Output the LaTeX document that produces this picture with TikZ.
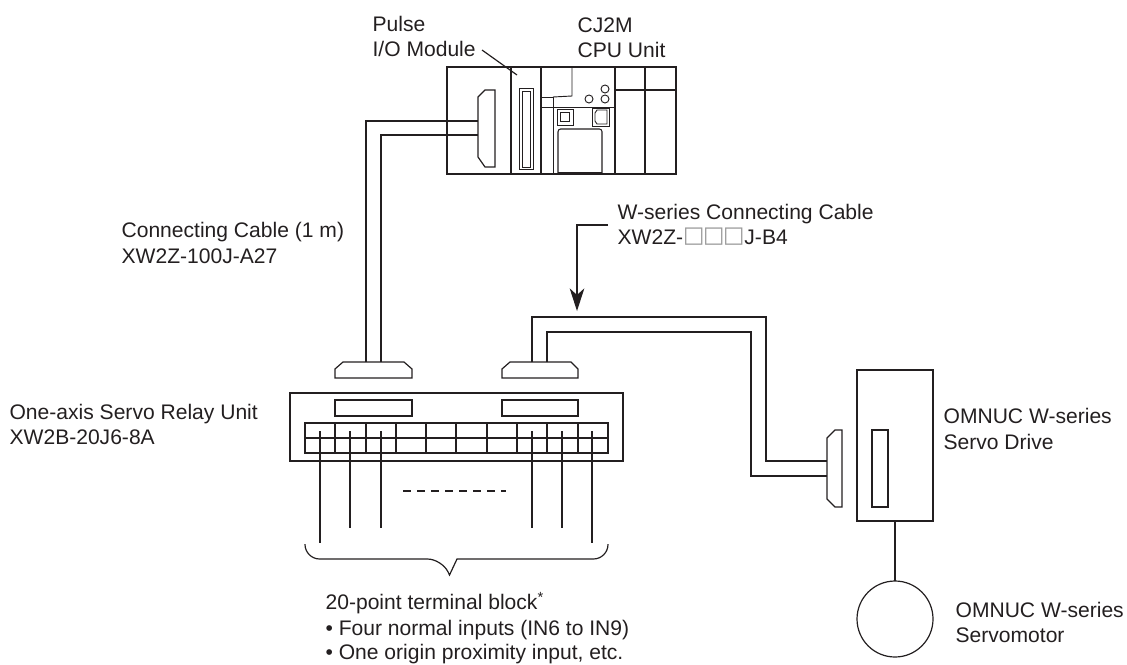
\documentclass[tikz,border=0pt]{standalone}
\usepackage{fontspec}
\setmainfont{Liberation Sans}
\newfontfamily\symfont{DejaVu Sans}
\usetikzlibrary{arrows.meta}
\definecolor{ink}{HTML}{231F20}
\tikzset{
  box/.style={draw=ink, inner sep=0pt, outer sep=0pt},
  thinbox/.style={box, line width=0.7pt},
  lbl/.style={anchor=base west, inner sep=0pt, text=ink, font=\fontsize{15.8pt}{19pt}\selectfont},
}
\newcommand{\blank}{\raisebox{1.5pt}{\symfont\fontsize{17pt}{17pt}\selectfont\textcolor{black!40}{□}}}
\begin{document}
\begin{tikzpicture}[x=0.75pt, y=-0.75pt, line width=0.9pt]
        \useasboundingbox (0,0) rectangle (1127,664);

        % Top: PLC rack
        \node[box, minimum width=171.75pt, minimum height=80.25pt] (rack) at (561.5,120.5) {};
        \node[box, minimum width=22.5pt, minimum height=80.25pt] (module) at (526,120.5) {};
        \node[box, minimum width=22.5pt, minimum height=80.25pt] (slotA) at (630,120.5) {};
        \node[box, minimum width=23.25pt, minimum height=80.25pt] (slotB) at (660.5,120.5) {};
        \draw[ink] (615,90) -- (676,90);

        % Pulse module socket
        \node[thinbox, minimum width=10.5pt, minimum height=60.75pt] (sockOut) at (526,128.5) {};
        \node[thinbox, minimum width=6pt, minimum height=57pt] (sockIn) at (526,129) {};

        % CPU front
        \draw[ink, line width=0.7pt] (572,67) -- (572,96) -- (553,97);
        \draw[ink, line width=0.7pt] (541,107) -- (615,107);
        \draw[ink, line width=0.7pt] (553,97) -- (553,174);
        \draw[ink, line width=0.7pt] (541,97) -- (553,97);
        \node[thinbox, minimum width=12pt, minimum height=12pt] (keyOut) at (565,117) {};
        \node[thinbox, minimum width=6.75pt, minimum height=6.75pt] (keyIn) at (564.5,116.5) {};
        \node[thinbox, minimum width=12.75pt, minimum height=13.5pt] (portOut) at (600.5,117) {};
        \draw[ink, line width=0.7pt] (597,110) -- (607,110) -- (607,124) -- (597,124) -- (595,121) -- (595,113) -- cycle;
        \node[thinbox, circle, minimum size=6pt] (ledA) at (589,99) {};
        \node[thinbox, circle, minimum size=6pt] (ledB) at (605,89) {};
        \node[thinbox, circle, minimum size=6pt] (ledC) at (605,99) {};
        \draw[ink, line width=0.8pt, rounded corners=2pt] (558,173) -- (558,129) -- (602,129) -- (602,173);
        \draw[ink] (558,173) -- (602,173);

        % Relay unit
        \node[box, minimum width=249.75pt, minimum height=51pt] (relay) at (456.5,427) {};
        \node[box, minimum width=57.75pt, minimum height=12pt] (headA) at (373.5,408) {};
        \node[box, minimum width=57pt, minimum height=12pt] (headB) at (540,408) {};
        \node[box, minimum width=227.25pt, minimum height=22.5pt] (block) at (456.5,438) {};
        \draw[ink] (block.west) -- (block.east);
        \draw[ink] (335,423) -- (335,453);
        \draw[ink] (366,423) -- (366,453);
        \draw[ink] (396,423) -- (396,453);
        \draw[ink] (426,423) -- (426,453);
        \draw[ink] (456,423) -- (456,453);
        \draw[ink] (487,423) -- (487,453);
        \draw[ink] (517,423) -- (517,453);
        \draw[ink] (547,423) -- (547,453);
        \draw[ink] (578,423) -- (578,453);

        % Wires
        \draw[ink] (320,431) -- (320,543);
        \draw[ink] (350,431) -- (350,528);
        \draw[ink] (381,431) -- (381,528);
        \draw[ink] (532,431) -- (532,528);
        \draw[ink] (562,431) -- (562,528);
        \draw[ink] (592,431) -- (592,543);
        \draw[ink, dash pattern=on 6pt off 4.5pt] (403,491) -- (506,491);
        \draw[ink, rounded corners=11pt] (305,544) -- (305,559) -- (442,559) [sharp corners] -- (449.5,575) -- (457,559) [rounded corners=11pt] -- (608,559) -- (608,544);

        % Plugs
        \draw[ink] (335,378) -- (335,369) -- (343,362) -- (404,362) -- (412,369) -- (412,378) -- cycle;
        \draw[ink] (502,378) -- (502,369) -- (510,362) -- (571,362) -- (578,369) -- (578,378) -- cycle;
        \draw[ink] (842,430) -- (835,430) -- (827,438) -- (827,499) -- (835,507) -- (842,507) -- cycle;
        \draw[ink] (495,90) -- (485,90) -- (478,97) -- (478,157) -- (485,167) -- (495,167) -- cycle;

        % Cables
        \coordinate (ca1) at (366,362);
        \coordinate (ca2) at (381,362);
        \coordinate (ca3) at (478,121);
        \coordinate (ca4) at (478,135);
        \draw[ink] (ca1) |- (ca3);
        \draw[ink] (ca2) |- (ca4);
        \coordinate (cb1) at (532,362);
        \coordinate (cb2) at (547,362);
        \coordinate (cb3) at (827,461);
        \coordinate (cb4) at (827,476);
        \draw[ink] (cb1) -- (532,317) -- (766,317) -- (766,461) -- (cb3);
        \draw[ink] (cb2) -- (547,332) -- (751,332) -- (751,476) -- (cb4);

        % Right: drive and motor
        \node[box, minimum width=57pt, minimum height=113.25pt] (drive) at (895,445.5) {};
        \node[box, minimum width=12pt, minimum height=57.75pt] (driveSlot) at (880,468.5) {};
        \node[box, circle, minimum size=57pt] (motor) at (895,619) {};
        \draw[ink] (drive) -- (motor);

        % Labels
        \coordinate (tagStart) at (482,50);
        \coordinate (tagEnd) at (517,75);
        \draw[ink] (tagStart) -- (tagEnd);
        \coordinate (arrowStart) at (608,225);
        \coordinate (arrowEnd) at (577,311);
        \draw[ink, -{Stealth[length=17pt, width=11pt, inset=5pt]}] (arrowStart) -| (arrowEnd);

        \node[lbl] (tPulseA) at (372,31) {Pulse};
        \node[lbl] (tPulseB) at (372,56) {I/O Module};
        \node[lbl] (tCpuA) at (577,32) {CJ2M};
        \node[lbl] (tCpuB) at (577,57) {CPU Unit};
        \node[lbl] (tCableA) at (121,237) {Connecting Cable (1 m)};
        \node[lbl] (tCableB) at (121,263) {XW2Z-100J-A27};
        \node[lbl] (tWsA) at (617,219) {W-series Connecting Cable};
        \node[lbl] (tWsB) at (617,244) {XW2Z-\blank\kern-1.1pt\blank\kern-1.1pt\blank J-B4};
        \node[lbl] (tRelayA) at (9,419) {One-axis Servo Relay Unit};
        \node[lbl] (tRelayB) at (9,444) {XW2B-20J6-8A};
        \node[lbl] (tDriveA) at (943,423) {OMNUC W-series};
        \node[lbl] (tDriveB) at (943,449) {Servo Drive};
        \node[lbl] (tMotorA) at (955,617) {OMNUC W-series};
        \node[lbl] (tMotorB) at (955,642) {Servomotor};
        \node[lbl] (tTermA) at (325,609) {20-point terminal block\textsuperscript{*}};
        \node[lbl] (tTermB) at (325,635) {\textbullet\ Four normal inputs (IN6 to IN9)};
        \node[lbl] (tTermC) at (325,659) {\textbullet\ One origin proximity input, etc.};
    \end{tikzpicture}
\end{document}
